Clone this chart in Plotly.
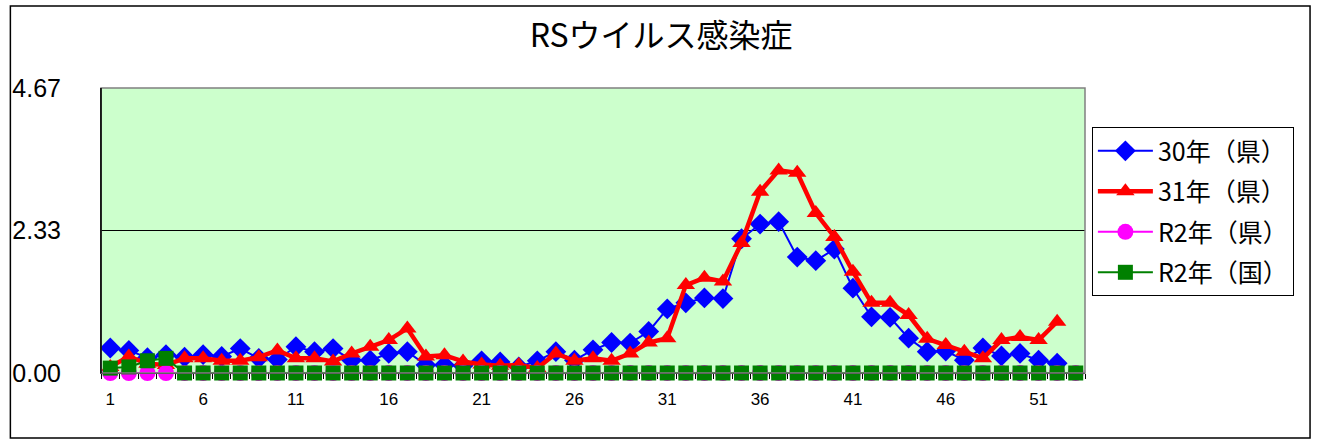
import plotly.graph_objects as go

weeks = list(range(1, 54))
y30 = [0.41, 0.37, 0.25, 0.30, 0.26, 0.30, 0.27, 0.40, 0.24, 0.22,
       0.43, 0.35, 0.40, 0.21, 0.21, 0.32, 0.35, 0.13, 0.13, 0.12,
       0.20, 0.18, 0.10, 0.20, 0.35, 0.21, 0.38, 0.50, 0.49, 0.68,
       1.05, 1.15, 1.23, 1.22, 2.20, 2.44, 2.48, 1.90, 1.84, 2.03,
       1.39, 0.92, 0.91, 0.57, 0.35, 0.36, 0.21, 0.41, 0.28, 0.32,
       0.21, 0.16]
y31 = [0.10, 0.27, 0.15, 0.13, 0.24, 0.24, 0.20, 0.20, 0.26, 0.37,
       0.24, 0.24, 0.19, 0.32, 0.43, 0.54, 0.73, 0.27, 0.29, 0.19,
       0.14, 0.12, 0.13, 0.08, 0.32, 0.20, 0.24, 0.20, 0.32, 0.50,
       0.57, 1.44, 1.56, 1.50, 2.13, 2.97, 3.32, 3.28, 2.62, 2.23,
       1.66, 1.15, 1.15, 0.95, 0.56, 0.46, 0.35, 0.24, 0.54, 0.59,
       0.54, 0.84]
yR2_ken = [0.0] * 53
yR2_kuni = [0.08, 0.10, 0.20, 0.24] + [0.0] * 49

x_ticks = [1, 6, 11, 16, 21, 26, 31, 36, 41, 46, 51]
y_ticks = [0, 2.335, 4.67]
y_ticktext = ["0.00", "2.33", "4.67"]

title_text = "RSウイルス感染症"
names = ["30年（県）", "31年（県）", "R2年（県）", "R2年（国）"]

fig = go.Figure()
fig.add_trace(go.Scatter(x=weeks[:len(y30)], y=y30, name=names[0], mode="lines+markers",
                         legendgroup="a", cliponaxis=False,
                         line=dict(color="#0000FF", width=2),
                         marker=dict(symbol="diamond", size=16, color="#0000FF")))
fig.add_trace(go.Scatter(x=weeks[:len(y31)], y=y31, name=names[1], mode="lines+markers",
                         legendgroup="b", cliponaxis=False,
                         line=dict(color="#FF0000", width=4.5),
                         marker=dict(symbol="triangle-up", size=16, color="#FF0000")))
fig.add_trace(go.Scatter(x=weeks, y=yR2_ken, name=names[2], mode="lines+markers",
                         legendgroup="c", cliponaxis=False,
                         line=dict(color="#FF00FF", width=2),
                         marker=dict(symbol="circle", size=16, color="#FF00FF")))
fig.add_trace(go.Scatter(x=weeks, y=yR2_kuni, name=names[3], mode="lines+markers",
                         legendgroup="d", cliponaxis=False,
                         line=dict(color="#008000", width=2),
                         marker=dict(symbol="square", size=15, color="#008000")))

fig.update_layout(
    width=1317, height=441,
    margin=dict(l=97, r=232, t=88, b=68),
    paper_bgcolor="white",
    plot_bgcolor="#CCFFCC",
    font=dict(family="Noto Sans CJK JP, Liberation Sans, sans-serif", color="black"),
    title=dict(text=title_text, x=0.502, xanchor="center", y=0.918, yanchor="middle",
               font=dict(size=32, family="Noto Sans CJK JP", color="black")),
    showlegend=True,
    legend=dict(x=1.007, xanchor="left", y=0.863, yanchor="top",
                bordercolor="black", borderwidth=1, bgcolor="white",
                font=dict(size=25, family="Noto Sans CJK JP"),
                tracegroupgap=5, itemwidth=55),
    xaxis=dict(range=[0.5, 53.5], tickmode="array", tickvals=x_ticks,
               ticktext=[str(v) for v in x_ticks],
               showgrid=False, zeroline=False, showline=True,
               linecolor="black", linewidth=1, mirror=False,
               ticks="outside", ticklen=0, tickcolor="black",
               minor=dict(tickmode="linear", tick0=0.5, dtick=1, ticks="outside",
                          ticklen=5, tickcolor="black", showgrid=False),
               tickfont=dict(size=17, family="Liberation Sans, Arial, sans-serif"),
               ticklabelstandoff=11),
    yaxis=dict(range=[0, 4.67], tickmode="array", tickvals=y_ticks, ticktext=y_ticktext,
               showgrid=True, gridcolor="black", gridwidth=1, zeroline=False,
               showline=True, linecolor="black", linewidth=1,
               ticks="", tickfont=dict(size=25, family="Liberation Sans, Arial, sans-serif"),
               ticklabelstandoff=34),
)

# plot-area border (gray) and outer chart border
fig.add_shape(type="rect", xref="x domain", yref="y domain", x0=0, x1=1, y0=0, y1=1,
              line=dict(color="#808080", width=1.5), layer="above")
fig.add_shape(type="line", xref="x domain", yref="y domain", x0=0, x1=0, y0=0, y1=1,
              line=dict(color="black", width=1.5), layer="above")
fig.add_shape(type="rect", xref="paper", yref="paper", x0=-0.0921, x1=1.2287, y0=-0.228, y1=1.2877,
              line=dict(color="black", width=1.5), layer="below")

fig.write_html("out.html", config={"displayModeBar": False},
               post_script="document.body.style.margin='0';document.body.style.overflow='hidden';")
